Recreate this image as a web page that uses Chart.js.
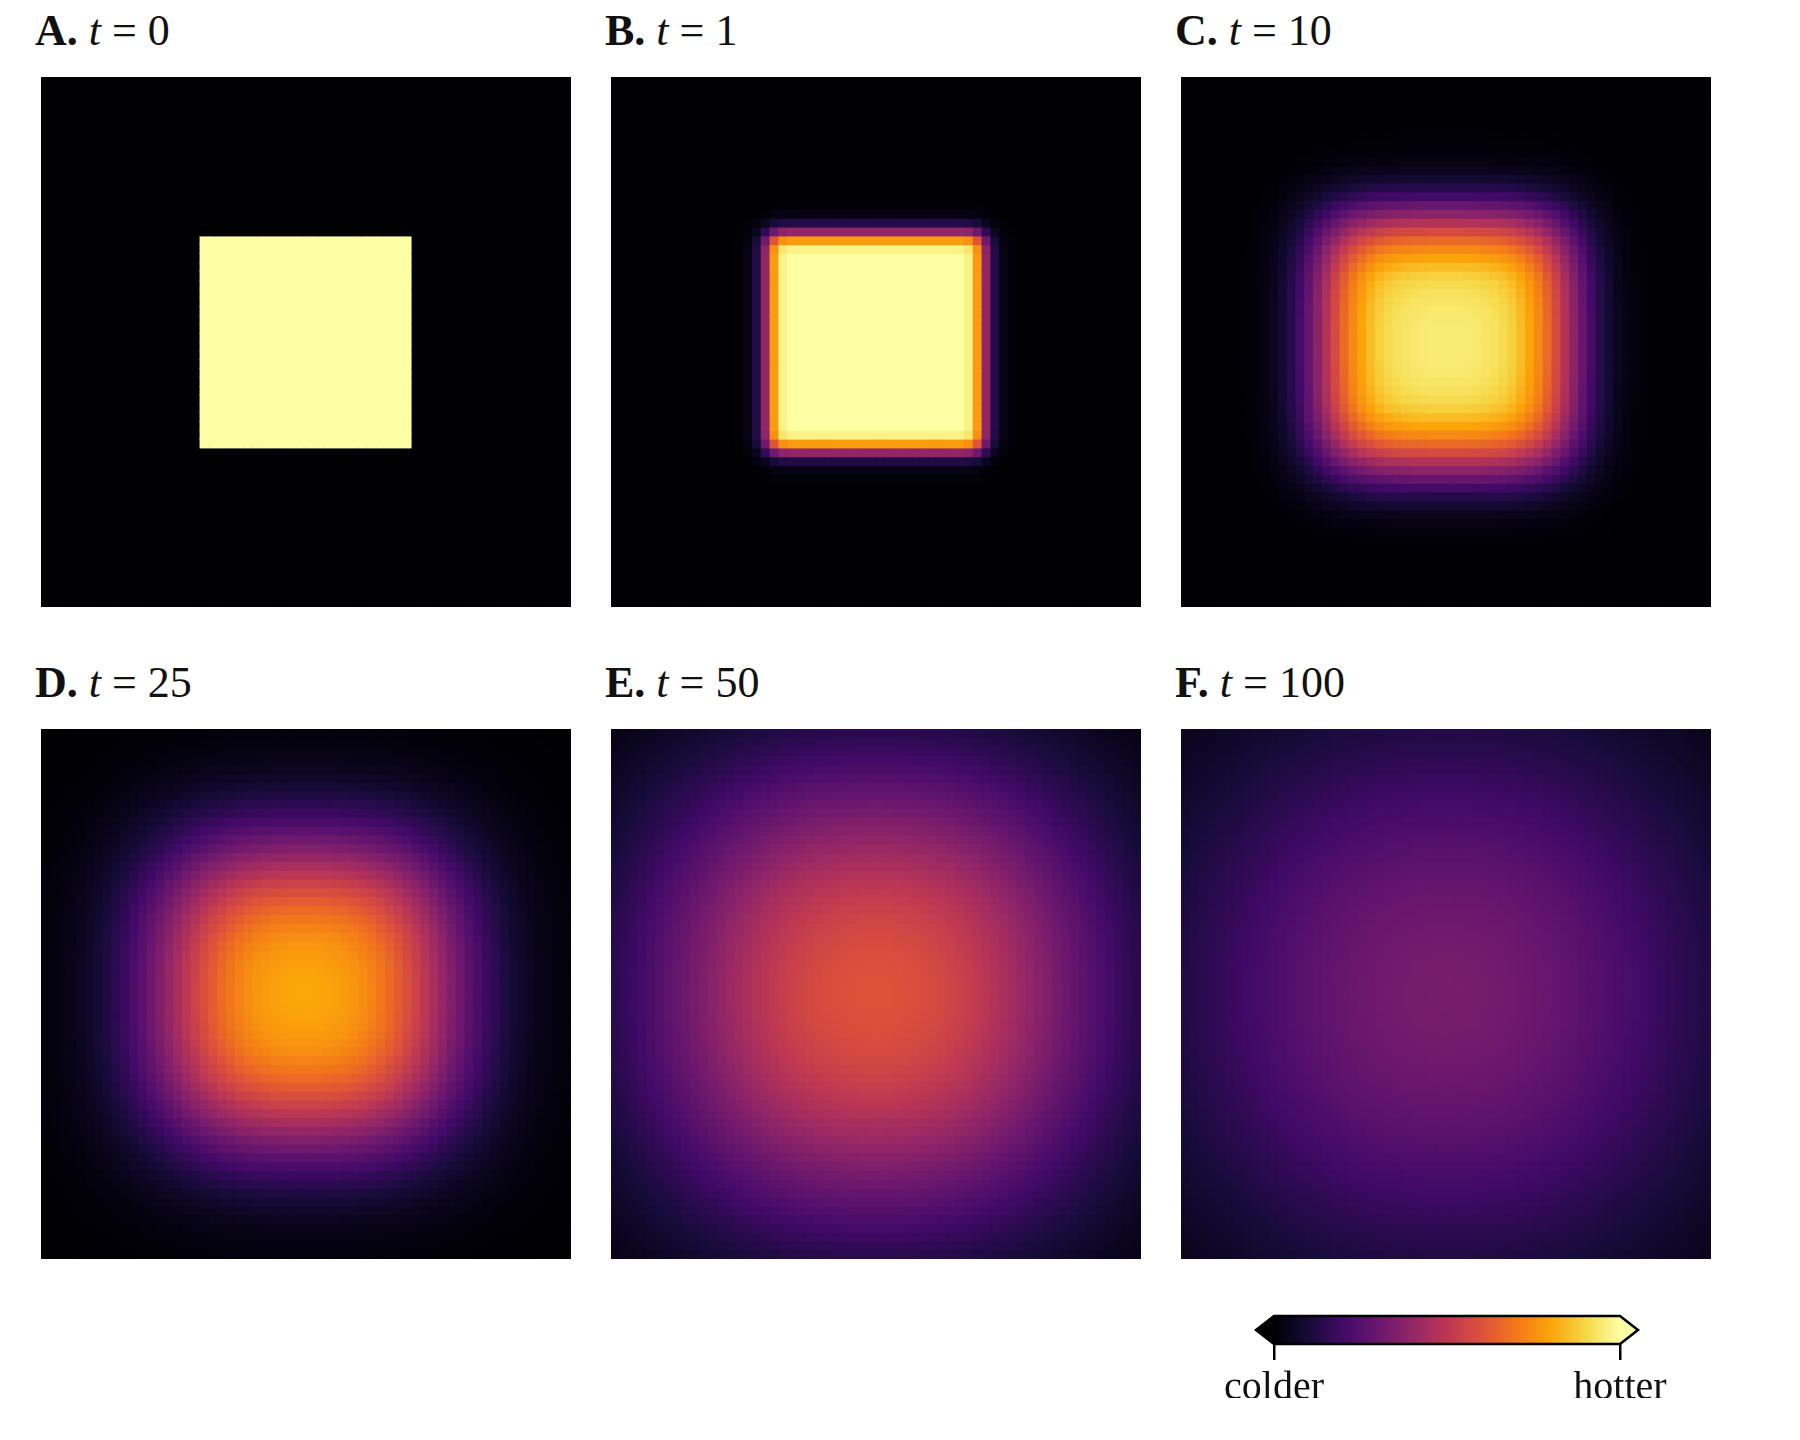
<!DOCTYPE html>
<html><head><meta charset="utf-8">
<script src="https://cdn.jsdelivr.net/npm/chart.js@4"></script>
<style>
body{margin:0;background:#fff;width:1800px;height:1440px;position:relative;overflow:hidden;font-family:"Liberation Serif","DejaVu Serif",serif;}
.title{position:absolute;font-size:44px;line-height:50px;color:#111;white-space:nowrap;}
.title b{font-weight:bold;}
.title i{font-style:italic;}
.panel{position:absolute;width:540px;height:540px;}
</style></head><body>
<script>
// ---- data: half-profiles (centre -> edge) of normalised temperature, 30 cells per half ----
const panelLabels = ["A.", "B.", "C.", "D.", "E.", "F."];
const panelTimes = ["0", "1", "10", "25", "50", "100"];
const profileA = [1,1,1,1,1,1,1,1,1,1,1,1,0,0,0,0,0,0,0,0,0,0,0,0,0,0,0,0,0,0];
const profileB = [1,1,1,1,1,1,1,1,1,1,0.97,0.78,0.4,0.13,0.03,0.006,0,0,0,0,0,0,0,0,0,0,0,0,0,0];
const profileC = [0.975,0.975,0.972,0.968,0.96,0.95,0.935,0.91,0.87,0.82,0.76,0.68,0.59,0.49,0.39,0.3,0.21,0.14,0.09,0.05,0.027,0.013,0.006,0.003,0,0,0,0,0,0];
const profileD = [0.895,0.893,0.888,0.88,0.87,0.855,0.835,0.81,0.78,0.745,0.705,0.66,0.61,0.56,0.505,0.45,0.395,0.345,0.295,0.25,0.205,0.17,0.135,0.105,0.08,0.06,0.045,0.033,0.024,0.017];
const profileE = [0.775,0.774,0.77,0.765,0.758,0.75,0.74,0.728,0.714,0.698,0.68,0.66,0.638,0.615,0.59,0.565,0.538,0.51,0.482,0.455,0.427,0.4,0.372,0.345,0.318,0.29,0.265,0.24,0.215,0.19];
const profileF = [0.575,0.574,0.572,0.569,0.565,0.56,0.554,0.547,0.539,0.53,0.52,0.509,0.497,0.484,0.47,0.455,0.44,0.424,0.408,0.391,0.374,0.357,0.34,0.323,0.306,0.289,0.272,0.255,0.238,0.222];
const profiles = [profileA, profileB, profileC, profileD, profileE, profileF];
const colorbarTicks = ["colder", "hotter"];

// inferno colormap stops
const inferno = ["#000004","#160b39","#420a68","#6a176e","#932667","#bc3754","#dd513a","#f37819","#fca50a","#f6d746","#fcffa4"];
const infRGB = inferno.map(h=>[parseInt(h.slice(1,3),16),parseInt(h.slice(3,5),16),parseInt(h.slice(5,7),16)]);
function cmap(v){
  v=Math.max(0,Math.min(1,v));
  const p=v*(infRGB.length-1), i=Math.min(Math.floor(p),infRGB.length-2), f=p-i;
  const a=infRGB[i], b=infRGB[i+1];
  return `rgb(${Math.round(a[0]+(b[0]-a[0])*f)},${Math.round(a[1]+(b[1]-a[1])*f)},${Math.round(a[2]+(b[2]-a[2])*f)})`;
}

const cols=[36,606,1176], rows=[72,724], titleTops=[6,658];
const HALF=30, N=60;
profiles.forEach((prof,k)=>{
  const c=k%3, r=Math.floor(k/3);
  const t=document.createElement('div'); t.className='title';
  t.style.left=(cols[c]-1)+'px'; t.style.top=titleTops[r]+'px';
  t.innerHTML=`<b>${panelLabels[k]}</b> <i>t</i> = ${panelTimes[k]}`;
  document.body.appendChild(t);
  const d=document.createElement('div'); d.className='panel';
  d.style.left=cols[c]+'px'; d.style.top=rows[r]+'px';
  const cv=document.createElement('canvas'); d.appendChild(cv); document.body.appendChild(d);
  const full=[...prof.slice().reverse(),...prof];
  const pts=[], colors=[];
  for(let i=0;i<N;i++)for(let j=0;j<N;j++){
    const v=full[i]*full[j];
    pts.push({x:i+0.5,y:j+0.5,v}); colors.push(cmap(v));
  }
  new Chart(cv,{type:'scatter',
    data:{datasets:[{data:pts,backgroundColor:colors,borderWidth:0,pointStyle:'rect',
      pointRadius:ctx=>{const a=ctx.chart.chartArea;return a?(a.width/N)/Math.SQRT2+0.6:5;},pointHoverRadius:0}]},
    options:{responsive:true,maintainAspectRatio:false,animation:false,events:[],
      layout:{padding:0},
      plugins:{legend:{display:false},tooltip:{enabled:false}},
      scales:{x:{type:'linear',min:0,max:N,display:false},y:{type:'linear',min:0,max:N,display:false}}}});
});

// colorbar
const cbDiv=document.createElement('div');
cbDiv.style.cssText='position:absolute;left:1214px;top:1288px;width:466px;height:110px;';
const cbCv=document.createElement('canvas'); cbDiv.appendChild(cbCv); document.body.appendChild(cbDiv);
const cbPlugin={id:'cb',beforeDatasetsDraw(ch){
  const a=ch.chartArea, ctx=ch.ctx, h=28, top=a.bottom-h, mid=top+h/2, ext=18;
  const g=ctx.createLinearGradient(a.left,0,a.right,0);
  inferno.forEach((col,i)=>g.addColorStop(i/(inferno.length-1),col));
  ctx.save();
  ctx.fillStyle=g; ctx.fillRect(a.left,top,a.right-a.left,h);
  ctx.fillStyle=inferno[0]; ctx.beginPath();ctx.moveTo(a.left+0.5,top);ctx.lineTo(a.left-ext,mid);ctx.lineTo(a.left+0.5,top+h);ctx.fill();
  ctx.fillStyle=inferno[inferno.length-1]; ctx.beginPath();ctx.moveTo(a.right-0.5,top);ctx.lineTo(a.right+ext,mid);ctx.lineTo(a.right-0.5,top+h);ctx.fill();
  ctx.strokeStyle='#000';ctx.lineWidth=2.5;ctx.lineJoin='miter';
  ctx.beginPath();ctx.moveTo(a.left,top);ctx.lineTo(a.right,top);ctx.lineTo(a.right+ext,mid);ctx.lineTo(a.right,top+h);ctx.lineTo(a.left,top+h);ctx.lineTo(a.left-ext,mid);ctx.closePath();ctx.stroke();
  ctx.restore();
}};
new Chart(cbCv,{type:'scatter',data:{datasets:[{data:[]}]},plugins:[cbPlugin],
  options:{responsive:true,maintainAspectRatio:false,animation:false,events:[],
    layout:{padding:{left:60,right:60,top:2,bottom:0}},
    plugins:{legend:{display:false},tooltip:{enabled:false}},
    scales:{
      x:{type:'linear',min:0,max:1,
        afterBuildTicks:ax=>{ax.ticks=[{value:0},{value:1}];},
        ticks:{callback:v=>v===0?colorbarTicks[0]:colorbarTicks[1],font:{family:'"Liberation Serif", serif',size:40},color:'#111',padding:4,maxRotation:0,autoSkip:false},
        grid:{drawOnChartArea:false,drawTicks:true,tickLength:16,color:'#000',lineWidth:2.5},
        border:{display:false}},
      y:{display:false,min:0,max:1}}}});
</script>
</body></html>
